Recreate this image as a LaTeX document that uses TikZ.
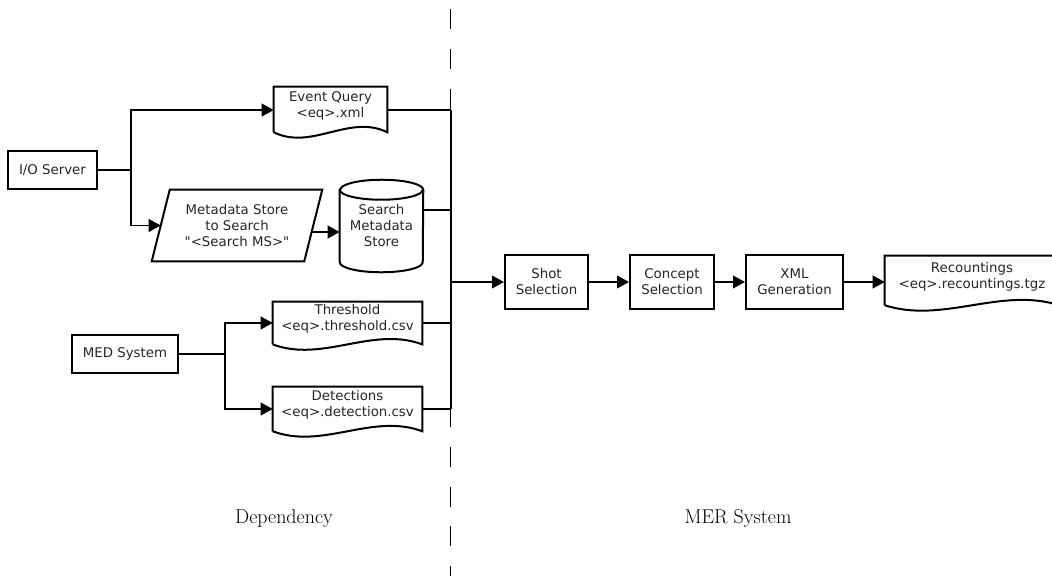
\documentclass[tikz,border=0pt]{standalone}
\usepackage{fontspec}
\newfontfamily\dvs{DejaVu Sans}
\usetikzlibrary{calc,arrows.meta}
\tikzset{
 line/.style={line width=1.35pt, draw=black},
 boxline/.style={line width=1.5pt, line join=miter},
 arr/.style={line, -{Triangle[length=9pt,width=9.5pt]}},
 txt/.style={font=\dvs\fontsize{10}{12}\selectfont, align=center, inner sep=2pt, text=black!85},
 procbox/.style={txt, draw, boxline, minimum height=28.5pt},
 docnode/.style={txt},
 lbl/.style={font=\rmfamily\fontsize{15}{17}\selectfont\addfontfeatures{LetterSpace=16,FakeBold=0.6}, text=black},
}
\newcommand\docout[1]{\draw[boxline] ($(#1.south west)+(0,-6pt)$) -- (#1.north west) -- (#1.north east) -- ($(#1.south east)+(0,-6pt)$) .. controls ($(#1.south east)!0.333!(#1.south west)+(0,8pt)$) and ($(#1.south east)!0.667!(#1.south west)+(0,-20pt)$) .. ($(#1.south west)+(0,-6pt)$);}
\begin{document}
\begin{tikzpicture}[x=0.75pt,y=-0.75pt]
\useasboundingbox (0,0) rectangle (1052,575);

% dashed separator
\coordinate (dtop) at (450.5,9);
\coordinate (dbot) at (450.5,600);
\draw[line width=1.4pt, dash pattern=on 15pt off 14.85pt] (dtop) -- (dbot);

% left side
\node[procbox, minimum width=66.75pt] (io) at (52.5,170) {I/O Server};
\node[procbox, minimum width=79.5pt] (med) at (125,354) {MED System};

\node[docnode, minimum width=84.75pt, minimum height=27.75pt] (eq) at (330.5,105.5) {Event Query\\<eq>.xml};
\docout{eq}
\node[docnode, minimum width=111.75pt, minimum height=25.5pt] (th) at (347.5,319) {Threshold\\<eq>.threshold.csv};
\docout{th}
\node[docnode, minimum width=111.75pt, minimum height=27pt] (det) at (347.5,405) {Detections\\<eq>.detection.csv};
\docout{det}

\node[txt, minimum width=127.5pt, minimum height=53.25pt] (ms) at (237,225.5) {Metadata Store\\to Search\\"<Search MS>"};
\draw[boxline] (ms.south west) -- ($(ms.north west)+(13.5pt,0)$) -- (ms.north east) -- ($(ms.south east)+(-13.5pt,0)$) -- cycle;

\node[txt, minimum width=62.25pt, minimum height=69pt] (cyl) at (381.5,226) {Search\\Metadata\\Store};
\draw[boxline] ($(cyl.north west)+(0,-7.5pt)$) -- ($(cyl.south west)+(0,7.5pt)$) arc[start angle=180,end angle=360,x radius=31.125pt,y radius=7.5pt] -- ($(cyl.north east)+(0,-7.5pt)$) arc[start angle=0,end angle=180,x radius=31.125pt,y radius=7.5pt] -- cycle;
\draw[boxline] ($(cyl.north west)+(0,-7.5pt)$) arc[start angle=180,end angle=360,x radius=31.125pt,y radius=7.5pt];

% connectors left
\coordinate (j1) at (131,170);
\draw[line] (io.east) -- (j1);
\draw[arr] (j1) |- ([yshift=-3.4pt]eq.west);
\draw[arr] (j1) |- ([xshift=6.75pt]ms.west);
\coordinate (pc) at (311,232);
\draw[arr] (pc) -- (pc -| cyl.west);

\coordinate (j2) at (225,354);
\draw[line] (med.east) -- (j2);
\draw[arr] (j2) |- ([yshift=-3pt]th.west);
\draw[arr] (j2) |- ([yshift=-3pt]det.west);

% bus
\coordinate (busT) at (451,110);
\coordinate (busB) at (451,409);
\coordinate (busM) at (451,282);
\draw[line] (busT) -- (busB);
\coordinate (eqR) at ([yshift=-3.4pt]eq.east);
\draw[line] (eqR) -- (eqR -| busT);
\coordinate (cyR) at ([yshift=12pt]cyl.east);
\draw[line] (cyR) -- (cyR -| busT);
\coordinate (thR) at ([yshift=-3pt]th.east);
\draw[line] (thR) -- (thR -| busT);
\coordinate (deR) at ([yshift=-3pt]det.east);
\draw[line] (deR) -- (deR -| busT);

% right side
\node[procbox, minimum width=62.25pt, minimum height=40.5pt] (shot) at (546.5,282) {Shot\\Selection};
\node[procbox, minimum width=63pt, minimum height=40.5pt] (concept) at (672,282) {Concept\\Selection};
\node[procbox, minimum width=72.75pt, minimum height=40.5pt] (xml) at (794.5,282) {XML\\Generation};
\node[docnode, minimum width=130.5pt, minimum height=30.75pt] (rec) at (972,276.5) {Recountings\\<eq>.recountings.tgz};
\docout{rec}

\draw[arr] (busM) -- (shot.west);
\draw[arr] (shot.east) -- (concept.west);
\draw[arr] (concept.east) -- (xml.west);
\draw[arr] (xml.east) -- (xml.east -| rec.west);

% labels
\node[lbl] (dep) at (284,519) {Dependency};
\node[lbl] (mer) at (738,519) {MER System};
\end{tikzpicture}
\end{document}
